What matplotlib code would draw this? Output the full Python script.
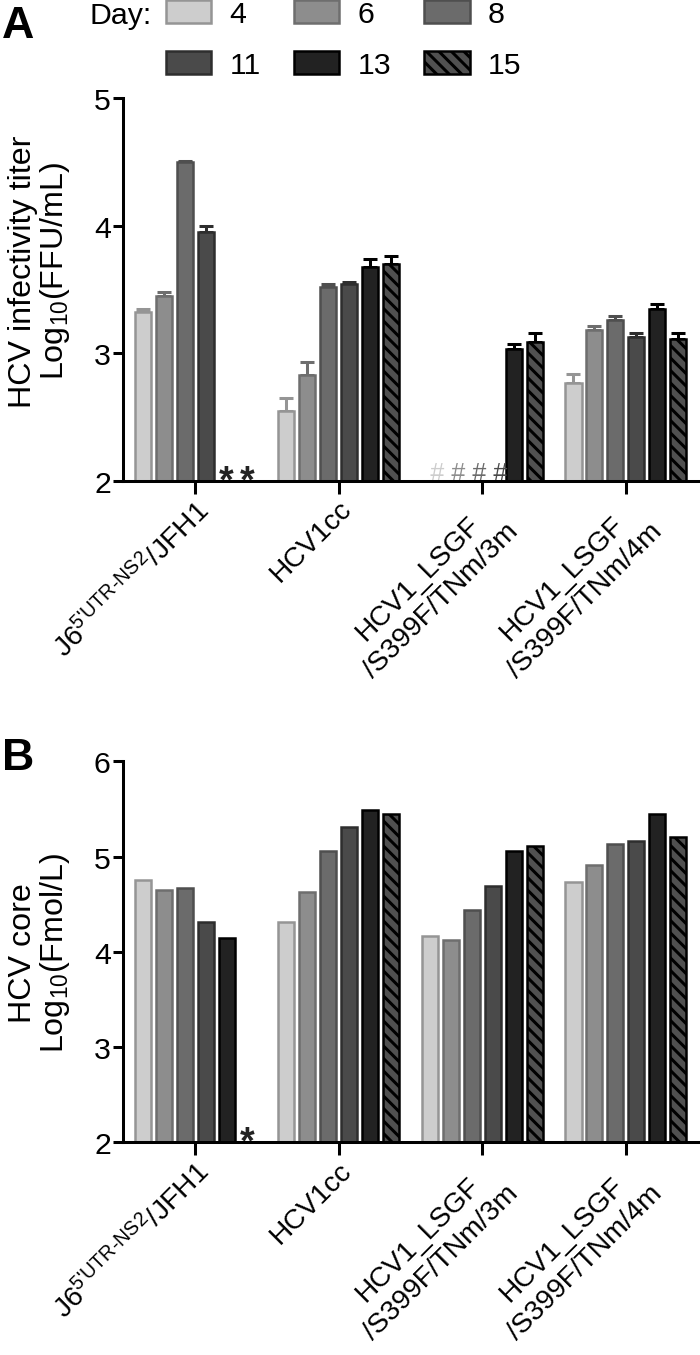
import numpy as np
import matplotlib
matplotlib.use("Agg")
import matplotlib.pyplot as plt
from matplotlib.patches import Patch

plt.rcParams['font.family'] = ['Liberation Sans', 'DejaVu Sans']
plt.rcParams['mathtext.fontset'] = 'custom'
plt.rcParams['mathtext.rm'] = 'Liberation Sans'
plt.rcParams['mathtext.it'] = 'Liberation Sans:italic'
plt.rcParams['hatch.linewidth'] = 2.9

# data
days = ['4', '6', '8', '11', '13', '15']
groups = ["J6$^{\\text{5'UTR-NS2}}$/JFH1", "HCV1cc",
          "HCV1_LSGF\n/S399F/TNm/3m", "HCV1_LSGF\n/S399F/TNm/4m"]

# infectivity titer, one list per group, one value per day (nan = no bar)
titer_j6 = [3.32, 3.45, 4.50, 3.95, np.nan, np.nan]
titer_cc = [2.55, 2.83, 3.52, 3.54, 3.68, 3.70]
titer_3m = [np.nan, np.nan, np.nan, np.nan, 3.03, 3.09]
titer_4m = [2.77, 3.18, 3.26, 3.13, 3.35, 3.11]

sem_j6 = [0.03, 0.03, 0.01, 0.05, 0, 0]
sem_cc = [0.10, 0.10, 0.02, 0.02, 0.06, 0.06]
sem_3m = [0, 0, 0, 0, 0.04, 0.07]
sem_4m = [0.07, 0.03, 0.03, 0.03, 0.04, 0.05]

# HCV core
core_j6 = [4.75, 4.65, 4.67, 4.31, 4.14, np.nan]
core_cc = [4.31, 4.63, 5.06, 5.31, 5.49, 5.45]
core_3m = [4.17, 4.12, 4.44, 4.69, 5.06, 5.11]
core_4m = [4.73, 4.91, 5.13, 5.16, 5.45, 5.21]

# symbols in place of missing bars: (group, day index, symbol)
titer_marks = [(0, 4, '*'), (0, 5, '*'), (2, 0, '#'), (2, 1, '#'), (2, 2, '#'), (2, 3, '#')]
core_marks = [(0, 5, '*')]

titer = np.array([titer_j6, titer_cc, titer_3m, titer_4m])
titer_sem = np.array([sem_j6, sem_cc, sem_3m, sem_4m])
core = np.array([core_j6, core_cc, core_3m, core_4m])

fills = ['#cdcdcd', '#8d8d8d', '#6b6b6b', '#4a4a4a', '#222222', '#505050']
edges = ['#959595', '#6e6e6e', '#4f4f4f', '#2e2e2e', '#000000', '#000000']
hatches = [None, None, None, None, None, '\\\\']

pitch = 0.146
width = 0.112
lw = 2.4

# dpi 75 -> 1 pt is about 1 px
W, H, DPI = 700, 1356, 75
fig = plt.figure(figsize=(W / DPI, H / DPI), dpi=DPI)
axA = fig.add_axes([123.3 / W, (H - 481.7) / H, 574.4 / W, (481.7 - 99.3) / H])
axB = fig.add_axes([123.3 / W, (H - 1143.3) / H, 574.4 / W, (1143.3 - 762.3) / H])


def draw_panel(ax, vals, sem, base, top, marks):
    xg = np.arange(len(groups))
    for d in range(len(days)):
        x = xg + (d - 2.5) * pitch
        v = vals[:, d]
        ok = ~np.isnan(v)
        ax.bar(x[ok], v[ok] - base, bottom=base, width=width, color=fills[d],
               edgecolor=edges[d], linewidth=lw, hatch=hatches[d], zorder=2)
        if sem is not None:
            e = sem[:, d]
            ax.errorbar(x[ok], v[ok], yerr=[np.zeros(ok.sum()), e[ok]], fmt='none',
                        ecolor=edges[d], elinewidth=2.9, capsize=7, capthick=2.9,
                        zorder=1)
    for g, d, s in marks:
        xm = g + (d - 2.5) * pitch
        if s == '*':
            ax.annotate(s, xy=(xm, base), xytext=(0, -10), textcoords='offset points',
                        ha='center', va='baseline', fontsize=36, fontweight='bold',
                        color='#222222', annotation_clip=False)
        else:
            ax.annotate(s, xy=(xm, base), xytext=(6, 1), textcoords='offset points',
                        ha='center', va='baseline', fontsize=24, fontstyle='italic',
                        color=fills[d], annotation_clip=False)
    ax.set_xlim(-0.5, 3.5)
    ax.set_ylim(base, top)
    ax.set_yticks(np.arange(base, top + 1))
    ax.set_xticks(xg)
    ax.set_xticklabels(groups, rotation=45, ha='right', rotation_mode='anchor',
                       multialignment='center', fontsize=27, linespacing=1.3)
    for sp in ['top', 'right']:
        ax.spines[sp].set_visible(False)
    for sp in ['left', 'bottom']:
        ax.spines[sp].set_linewidth(2.9)
        ax.spines[sp].set_zorder(5)
    ax.tick_params(axis='y', length=10, width=2.9, labelsize=29, pad=2)
    ax.tick_params(axis='x', length=12, width=2.9, pad=2)


draw_panel(axA, titer, titer_sem, 2, 5, titer_marks)
draw_panel(axB, core, None, 2, 6, core_marks)

axA.set_ylabel("HCV infectivity titer\nLog$_{10}$(FFU/mL)", fontsize=31, linespacing=1.0)
axA.yaxis.set_label_coords(-0.09, 0.55)
axB.set_ylabel("HCV core\nLog$_{10}$(Fmol/L)", fontsize=31, linespacing=1.0)
axB.yaxis.set_label_coords(-0.09, 0.5)

# legend, rows: 4 6 8 / 11 13 15
order = [0, 3, 1, 4, 2, 5]
handles = [Patch(facecolor=fills[i], edgecolor=edges[i], linewidth=lw, hatch=hatches[i])
           for i in order]
fig.legend(handles, [days[i] for i in order], ncol=3, loc='upper left',
           bbox_to_anchor=(166 / W, 1 - 1 / H), frameon=False, fontsize=29,
           handlelength=1.5, handleheight=0.8, handletextpad=0.6, columnspacing=1.1,
           labelspacing=0.75, borderaxespad=0, borderpad=0)
fig.text(90 / W, 1 - 16 / H, "Day:", fontsize=29, va='center', ha='left')

fig.text(0.003, 1 - 6 / H, "A", fontsize=43, fontweight='bold', va='top')
fig.text(0.003, 1 - 738 / H, "B", fontsize=43, fontweight='bold', va='top')

fig.savefig("out.png", dpi=DPI)
